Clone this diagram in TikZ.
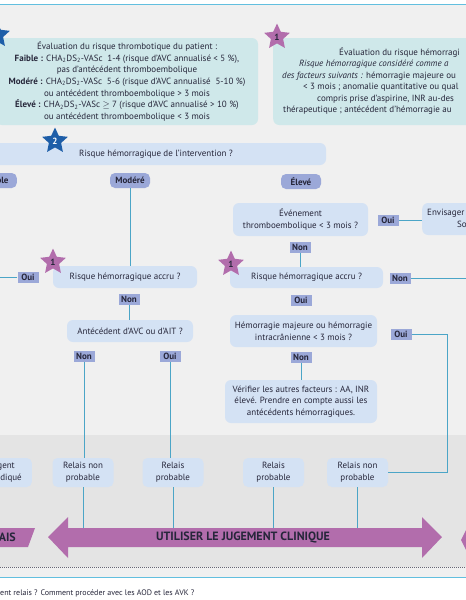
\documentclass[tikz,border=0pt]{standalone}
\usepackage{fontspec}
\setmainfont{PT Sans}
\usepackage{tikz}
\usetikzlibrary{shapes.geometric}

\definecolor{bggrey}{HTML}{F0F0F0}
\definecolor{bandgrey}{HTML}{E4E4E4}
\definecolor{rulecol}{HTML}{62BFDF}
\definecolor{tealfill}{HTML}{CFE8EA}
\definecolor{qfill}{HTML}{D4E2F4}
\definecolor{tagfill}{HTML}{9BA8D8}
\definecolor{linkcol}{HTML}{4BA5C7}
\definecolor{pinkc}{HTML}{B26DAC}
\definecolor{bluec}{HTML}{1E5EA8}
\definecolor{inkc}{HTML}{26263A}

\newcommand\boxfont{\fontsize{9}{11.7}\selectfont}

\begin{document}
\begin{tikzpicture}[x=1pt, y=-1pt,
  every node/.style={text=inkc},
  info/.style={rectangle, rounded corners=6pt, fill=tealfill, align=center,
    font=\boxfont},
  qbox/.style={rectangle, rounded corners=6pt, fill=qfill, align=center,
    font=\boxfont, inner sep=2pt},
  level/.style={rectangle, rounded corners=5pt, fill=tagfill, minimum width=40pt,
    minimum height=15pt, font=\boxfont\bfseries, inner sep=1pt},
  ans/.style={rectangle, fill=tagfill, minimum width=21pt, minimum height=11pt,
    font=\boxfont\bfseries, inner sep=1pt},
  relais/.style={rectangle, rounded corners=5pt, fill=qfill, minimum width=61pt,
    minimum height=29pt, align=center, font=\boxfont},
  pstar/.style={star, star points=5, star point ratio=2.1, fill=pinkc,
    minimum size=27pt, inner sep=0pt, font=\boxfont\bfseries},
  bstar/.style={pstar, fill=bluec, text=white},
  link/.style={draw=linkcol, line width=0.9pt},
  frag/.style={anchor=west, inner sep=0pt, font=\boxfont}
]
  \useasboundingbox (0,0) rectangle (466,600);
  \clip (0,0) rectangle (466,600);

  % background
  \fill[bggrey] (0,0) rectangle (466,577);
  \fill[white] (0,0) rectangle (466,4);
  \fill[white] (0,577) rectangle (466,600);
  \fill[bandgrey] (0,435) rectangle (466,567);
  \draw[rulecol, line width=1pt] (0,4) -- (466,4);
  \draw[rulecol, line width=0.8pt] (0,577) -- (466,577);
  \draw[inkc!70, line width=0.9pt, dash pattern=on 0.9pt off 1.1pt] (0,567) -- (466,567);

  % risk assessment boxes
  \node[info, minimum width=262pt, minimum height=87pt] (thrombo) at (127,81.5)
    {Évaluation du risque thrombotique du patient :\\
     \textbf{Faible :} CHA\textsubscript{2}DS\textsubscript{2}-VASc\ \ 1-4 (risque d'AVC annualisé < 5 \%),\\
     pas d'antécédent thromboembolique\\
     \textbf{Modéré :} CHA\textsubscript{2}DS\textsubscript{2}-VASc\ \ 5-6 (risque d'AVC annualisé\ \ 5-10 \%)\\
     ou antécédent thromboembolique > 3 mois\\
     \textbf{Élevé :} CHA\textsubscript{2}DS\textsubscript{2}-VASc $\geq$ 7 (risque d'AVC annualisé > 10 \%)\\
     ou antécédent thromboembolique < 3 mois};
  \node[info, anchor=west, minimum width=220pt, minimum height=87pt] (hemo) at (273,81.5) {};
  \node[frag] (hemoA) at (339,53) {Évaluation du risque hémorragi};
  \node[frag] (hemoB) at (299,64.5) {\itshape Risque hémorragique considéré comme a};
  \node[frag] (hemoC) at (282,76) {\textit{des facteurs suivants :} hémorragie majeure ou};
  \node[frag] (hemoD) at (303,87.5) {< 3 mois ; anomalie quantitative ou qual};
  \node[frag] (hemoE) at (317,99) {compris prise d'aspirine, INR au-des};
  \node[frag] (hemoF) at (283,110.5) {thérapeutique ; antécédent d'hémorragie au};
  \node[bstar] (etoileA) at (-3,35) {};
  \node[pstar] (etoileB) at (277,37) {1};

  % procedure risk
  \node[qbox, minimum width=340pt, minimum height=22pt] (interv) at (156,154)
    {Risque hémorragique de l'intervention ?};
  \node[bstar] (etoileC) at (55,141) {2};
  \node[level, anchor=east] (faible) at (17,180.5) {Faible};
  \node[level] (modere) at (130,180.5) {Modéré};
  \node[level] (eleve) at (301,181.5) {Élevé};

  % moderate branch
  \node[qbox, minimum width=144pt, minimum height=22pt] (accruL) at (125,277)
    {Risque hémorragique accru ?};
  \node[pstar] (etoileD) at (53,262) {1};
  \node[ans] (ouiL) at (28,277.5) {Oui};
  \node[ans] (nonL) at (129,299.5) {Non};
  \node[qbox, minimum width=126pt, minimum height=22pt] (antec) at (130,331)
    {Antécédent d'AVC ou d'AIT ?};
  \node[ans] (nonAv) at (84,356) {Non};
  \node[ans] (ouiAv) at (170,356) {Oui};

  % high branch
  \node[qbox, minimum width=135pt, minimum height=33pt] (evt) at (300.5,219.5)
    {Événement\\thromboembolique < 3 mois ?};
  \node[ans] (ouiE) at (388,220) {Oui};
  \node[qbox, anchor=west, minimum width=80pt, minimum height=32pt] (envis) at (422,219) {};
  \node[frag] (envisA) at (427,213.5) {Envisager};
  \node[frag] (envisB) at (457,224.5) {So};
  \node[ans] (nonE) at (300,247) {Non};
  \node[qbox, minimum width=153pt, minimum height=21pt] (accruR) at (306.5,277.5)
    {Risque hémorragique accru ?};
  \node[pstar] (etoileE) at (231,264) {1};
  \node[ans] (nonR) at (400,278) {Non};
  \node[ans] (ouiR) at (301,300) {Oui};
  \node[qbox, minimum width=147pt, minimum height=32pt] (hemoq) at (303.5,331)
    {Hémorragie majeure ou hémorragie\\intracrânienne < 3 mois ?};
  \node[ans] (ouiH) at (401,334) {Oui};
  \node[ans] (nonH) at (301,357) {Non};
  \node[qbox, minimum width=152pt, minimum height=43pt] (verif) at (301,401.5)
    {Vérifier les autres facteurs : AA, INR\\élevé. Prendre en compte aussi les\\antécédents hémorragiques.};

  % outcomes
  \node[relais, anchor=east] (urgent) at (32,472.5) {};
  \node[frag, anchor=east] (urgentA) at (15,467) {gent};
  \node[frag, anchor=east] (urgentB) at (22,478.5) {diqué};
  \node[relais] (rnp1) at (83,472.5) {Relais non\\probable};
  \node[relais] (rp1) at (173,472.5) {Relais\\probable};
  \node[relais] (rp2) at (273.5,472.5) {Relais\\probable};
  \node[relais] (rnp2) at (357.5,472.5) {Relais non\\probable};

  \coordinate (edgeL) at (-5,277.5);
  \coordinate (edgeR) at (470,278);
  \coordinate (bendH) at (447,334);
  \coordinate (shaft) at (0,529);

  \draw[link] (modere.south) -- (modere.south |- accruL.north);
  \draw[link] (ouiL) -- (edgeL);
  \draw[link] (nonL.south) -- (nonL.south |- antec.north);
  \draw[link] (nonAv.south) -- (nonAv.south |- rnp1.north);
  \draw[link] (ouiAv.south) -- (ouiAv.south |- rp1.north);
  \draw[link] (ouiE.east) -- (ouiE.east -| envis.west);
  \draw[link] (nonE.south) -- (nonE.south |- accruR.north);
  \draw[link] (nonR) -- (edgeR);
  \draw[link] (nonH.south) -- (nonH.south |- verif.north);
  \draw[link] (ouiH.east) -- (bendH) |- (rnp2.east);
  \draw[link] (rnp1.south) -- (rnp1.south |- shaft);
  \draw[link] (rp1.south) -- (rp1.south |- shaft);
  \draw[link] (rp2.south) -- (rp2.south |- shaft);
  \draw[link] (rnp2.south) -- (rnp2.south |- shaft);

  % clinical judgement arrow
  \fill[pinkc] (48,537) -- (68,517) -- (68,528) -- (422,528) -- (422,517) -- (442,537)
    -- (422,558) -- (422,547) -- (68,547) -- (68,558) -- cycle;
  \node[font=\fontsize{12}{13}\selectfont\bfseries] (jugement) at (243,537.5)
    {UTILISER LE JUGEMENT CLINIQUE};
  \fill[pinkc] (-5,528) -- (35,528) -- (28,547) -- (-5,547) -- cycle;
  \node[anchor=east, inner sep=0pt, font=\fontsize{12}{13}\selectfont\bfseries] (relaisA) at (16,537.5) {AIS};
  \fill[pinkc] (461,540) -- (470,522) -- (470,558) -- cycle;

  \node[anchor=west, inner sep=0pt, font=\fontsize{8}{9}\selectfont] (question) at (0,593)
    {ent relais ? Comment procéder avec les AOD et les AVK ?};
\end{tikzpicture}
\end{document}
